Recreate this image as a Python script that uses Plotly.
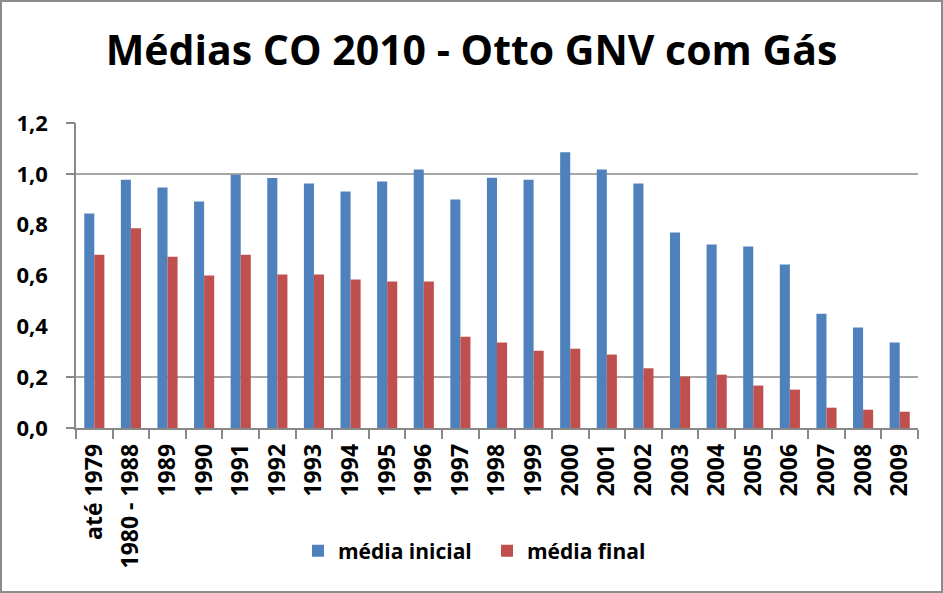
import plotly.graph_objects as go

categories = ["até 1979", "1980 - 1988", "1989", "1990", "1991", "1992", "1993", "1994",
              "1995", "1996", "1997", "1998", "1999", "2000", "2001", "2002", "2003",
              "2004", "2005", "2006", "2007", "2008", "2009"]
media_inicial = [0.844, 0.977, 0.946, 0.891, 0.996, 0.984, 0.962, 0.930, 0.970, 1.017,
                 0.899, 0.985, 0.977, 1.085, 1.017, 0.962, 0.769, 0.722, 0.714, 0.643,
                 0.450, 0.395, 0.336]
media_final = [0.682, 0.786, 0.674, 0.600, 0.682, 0.604, 0.604, 0.584, 0.576, 0.576,
               0.359, 0.336, 0.304, 0.312, 0.289, 0.235, 0.202, 0.210, 0.167, 0.151,
               0.080, 0.072, 0.064]
y_ticks = [0.0, 0.2, 0.4, 0.6, 0.8, 1.0, 1.2]
y_tick_text = [f"{v:.1f}".replace(".", ",") for v in y_ticks]
grid_values = [0.0, 0.2, 1.0, 1.2]

W, H = 943, 593
ML, MR, MT, MB = 76, 25, 123, 165

font_family = "Open Sans"
grid_color = "#a6a6a6"

fig = go.Figure()
fig.add_trace(go.Bar(name="média inicial", x=categories, y=media_inicial,
                     marker=dict(color="#4F81BD", line=dict(width=0))))
fig.add_trace(go.Bar(name="média final", x=categories, y=media_final,
                     marker=dict(color="#C0504D", line=dict(width=0))))

pw = W - ML - MR
ph = H - MT - MB

fig.update_layout(
    width=W, height=H,
    margin=dict(l=ML, r=MR, t=MT, b=MB, pad=0),
    paper_bgcolor="white", plot_bgcolor="white",
    barmode="group", bargap=0.45, bargroupgap=0,
    title=dict(text="Médias CO 2010 - Otto GNV com Gás",
               font=dict(family=font_family, size=41, color="black", weight="bold"),
               x=0.5, xanchor="center", xref="container", y=1 - 51 / H, yanchor="middle"),
    showlegend=True,
    legend=dict(orientation="h", x=(298 - ML) / pw, xanchor="left", y=-(551 - (MT + ph)) / ph,
                yanchor="middle", font=dict(family=font_family, size=21, color="black",
                                            weight="bold"),
                itemwidth=30, entrywidth=144, entrywidthmode="pixels",
                traceorder="normal", bgcolor="rgba(0,0,0,0)"),
    xaxis=dict(type="category", range=[-0.5, len(categories) - 0.5], tickangle=-90,
               tickson="boundaries", ticks="outside",
               ticklen=9, tickcolor="#888888", tickwidth=1.5,
               showline=True, linecolor="#888888", linewidth=1.5,
               showgrid=False, automargin=False, ticklabelstandoff=5,
               tickfont=dict(family=font_family, size=23, color="black", weight="bold")),
    yaxis=dict(range=[0, 1.2], tickvals=y_ticks, ticktext=y_tick_text, showgrid=False,
               ticks="outside", ticklen=22, tickcolor="rgba(0,0,0,0)",
               showline=True, linecolor="#888888", linewidth=1.5, zeroline=False,
               automargin=False,
               tickfont=dict(family=font_family, size=22, color="black", weight="bold")),
    yaxis2=dict(range=[0, 1.2], overlaying="y", side="left", tickvals=grid_values,
                showticklabels=False, ticks="outside", ticklen=9, tickcolor="#888888",
                tickwidth=1.5, showgrid=True, gridcolor=grid_color, gridwidth=1.5,
                zeroline=False, showline=False),
)

# invisible trace to activate yaxis2 (grid lines)
fig.add_trace(go.Scatter(x=[categories[0]], y=[0], yaxis="y2", mode="markers",
                         marker=dict(opacity=0), showlegend=False, hoverinfo="skip"))

# chart border around the whole canvas
fig.add_shape(type="rect", xref="paper", yref="paper",
              x0=(1 - ML) / pw, x1=(W - 1 - ML) / pw,
              y0=-(MB - 1) / ph, y1=(ph + MT - 1) / ph,
              line=dict(color="#8c8c8c", width=2), fillcolor="rgba(0,0,0,0)", layer="below")

fig.write_html("out.html", config={"displayModeBar": False},
               post_script="document.body.style.margin='0';")
